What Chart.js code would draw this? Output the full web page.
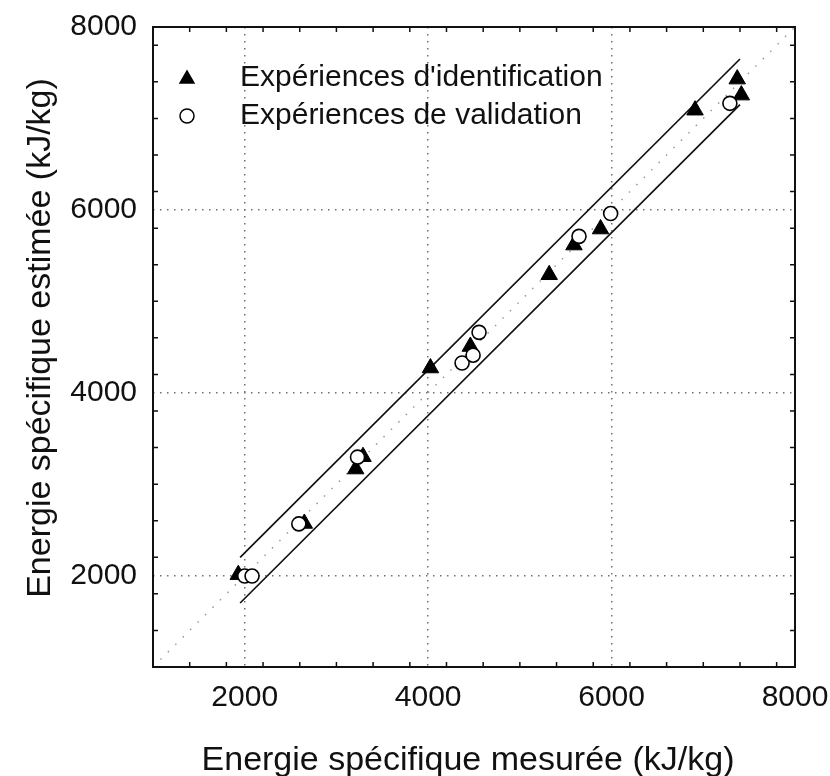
<!DOCTYPE html>
<html>
<head>
<meta charset="utf-8">
<script src="https://cdn.jsdelivr.net/npm/chart.js@4"></script>
<style>
  body { margin: 0; background: #fff; }
  #wrap { width: 830px; height: 776px; }
</style>
</head>
<body>
<div id="wrap"><canvas id="chart" width="830" height="776"></canvas></div>
<script>
// measured (x) vs estimated (y) specific energy, kJ/kg
var identX = [1930, 2650, 3210, 3290, 4025, 4460, 5320, 5590, 5880, 6910, 7370, 7415];
var identY = [2010, 2570, 3165, 3300, 4270, 4505, 5290, 5615, 5790, 7090, 7430, 7255];
var validX = [2000, 2080, 2590, 3230, 4370, 4490, 4555, 5645, 5990, 7290];
var validY = [1995, 1995, 2565, 3295, 4325, 4410, 4660, 5710, 5960, 7165];

// +/- 250 kJ/kg band and the y = x line
var bandX = [1950, 7400];
var upperY = [2200, 7650];
var lowerY = [1700, 7150];
var diagX = [1000, 8000];
var diagY = [1000, 8000];

var axisMin = 1000;
var axisMax = 8000;
var tickValues = [2000, 4000, 6000, 8000];
var minorStep = 400;

var legendLabels = ["Expériences d'identification", "Expériences de validation"];
var xTitle = 'Energie spécifique mesurée (kJ/kg)';
var yTitle = 'Energie spécifique estimée (kJ/kg)';

var FONT = '"Liberation Sans", Arial, Helvetica, sans-serif';

function toPoints(xs, ys) {
  return xs.map(function(x, i) { return { x: x, y: ys[i] }; });
}

function setTicks(scale) {
  scale.ticks = tickValues.map(function(v) { return { value: v }; });
}

function plainNumber(v) { return String(v); }

// no extra room for the end labels, the layout padding handles it
function clearPadding(scale) {
  scale.paddingTop = 0;
  scale.paddingBottom = 0;
  scale.paddingLeft = 0;
  scale.paddingRight = 0;
}

// frame, inward tick marks, legend and axis titles
var decorPlugin = {
  id: 'decor',
  afterDatasetsDraw: function(chart) {
    var ctx = chart.ctx;
    var a = chart.chartArea;
    var xs = chart.scales.x, ys = chart.scales.y;
    ctx.save();
    ctx.strokeStyle = '#111';
    ctx.lineWidth = 1.5;
    ctx.beginPath();
    for (var v = axisMin + minorStep; v < axisMax; v += minorStep) {
      var len = (v % 2000 === 0) ? 9 : 5;
      var px = xs.getPixelForValue(v);
      var py = ys.getPixelForValue(v);
      ctx.moveTo(px, a.bottom); ctx.lineTo(px, a.bottom - len);
      ctx.moveTo(px, a.top); ctx.lineTo(px, a.top + len);
      ctx.moveTo(a.left, py); ctx.lineTo(a.left + len, py);
      ctx.moveTo(a.right, py); ctx.lineTo(a.right - len, py);
    }
    ctx.stroke();
    ctx.lineWidth = 2;
    ctx.strokeRect(a.left, a.top, a.right - a.left, a.bottom - a.top);

    // legend
    var lx = a.left + 34;
    ctx.fillStyle = '#000';
    ctx.beginPath();
    var r = 9.5;
    var ty = a.top + 52;
    ctx.moveTo(lx, ty - r);
    ctx.lineTo(lx + r * Math.sin(2 * Math.PI / 3), ty + r / 2);
    ctx.lineTo(lx - r * Math.sin(2 * Math.PI / 3), ty + r / 2);
    ctx.closePath();
    ctx.fill();
    ctx.beginPath();
    ctx.arc(lx, a.top + 89, 7, 0, Math.PI * 2);
    ctx.fillStyle = '#fff';
    ctx.fill();
    ctx.lineWidth = 1.5;
    ctx.strokeStyle = '#000';
    ctx.stroke();
    ctx.fillStyle = '#111';
    ctx.font = '30px ' + FONT;
    ctx.textAlign = 'left';
    ctx.textBaseline = 'middle';
    ctx.fillText(legendLabels[0], a.left + 87, a.top + 51);
    ctx.fillText(legendLabels[1], a.left + 87, a.top + 89);

    // axis titles
    ctx.font = '34px ' + FONT;
    ctx.textAlign = 'center';
    ctx.textBaseline = 'alphabetic';
    ctx.fillText(xTitle, 468, 770);
    ctx.translate(50, 338);
    ctx.rotate(-Math.PI / 2);
    ctx.fillText(yTitle, 0, 0);
    ctx.restore();
  }
};

var ctx = document.getElementById('chart').getContext('2d');
var chart = new Chart(ctx, {
  type: 'scatter',
  data: {
    datasets: [{
      label: legendLabels[1],
      data: toPoints(validX, validY),
      pointStyle: 'circle',
      pointRadius: 7,
      backgroundColor: '#fff',
      borderColor: '#000',
      borderWidth: 1.6
    }, {
      label: legendLabels[0],
      data: toPoints(identX, identY),
      pointStyle: 'triangle',
      pointRadius: 9.5,
      backgroundColor: '#000',
      borderColor: '#000',
      borderWidth: 1
    }, {
      data: toPoints(bandX, upperY),
      showLine: true,
      pointRadius: 0,
      borderColor: '#111',
      borderWidth: 1.7
    }, {
      data: toPoints(bandX, lowerY),
      showLine: true,
      pointRadius: 0,
      borderColor: '#111',
      borderWidth: 1.7
    }, {
      data: toPoints(diagX, diagY),
      showLine: true,
      pointRadius: 0,
      borderColor: '#9a9a9a',
      borderWidth: 1.5,
      borderDash: [1.5, 9]
    }]
  },
  options: {
    responsive: false,
    animation: false,
    devicePixelRatio: 1,
    events: [],
    layout: { padding: { left: 15, right: 35, top: 27, bottom: 59 } },
    plugins: {
      legend: { display: false },
      tooltip: { enabled: false }
    },
    scales: {
      x: {
        type: 'linear',
        min: axisMin,
        max: axisMax,
        afterBuildTicks: setTicks,
        afterFit: function(scale) { scale.height = 50; clearPadding(scale); },
        grid: { color: '#707070', lineWidth: 1.5, drawTicks: false },
        border: { display: false, dash: [1.5, 5.5] },
        ticks: { color: '#111', padding: 13, font: { size: 30, family: FONT }, callback: plainNumber }
      },
      y: {
        type: 'linear',
        min: axisMin,
        max: axisMax,
        afterBuildTicks: setTicks,
        afterFit: function(scale) { scale.width = 138; clearPadding(scale); },
        grid: { color: '#707070', lineWidth: 1.5, drawTicks: false },
        border: { display: false, dash: [1.5, 5.5] },
        ticks: { color: '#111', padding: 16, font: { size: 30, family: FONT }, callback: plainNumber }
      }
    }
  },
  plugins: [decorPlugin]
});
</script>
</body>
</html>
